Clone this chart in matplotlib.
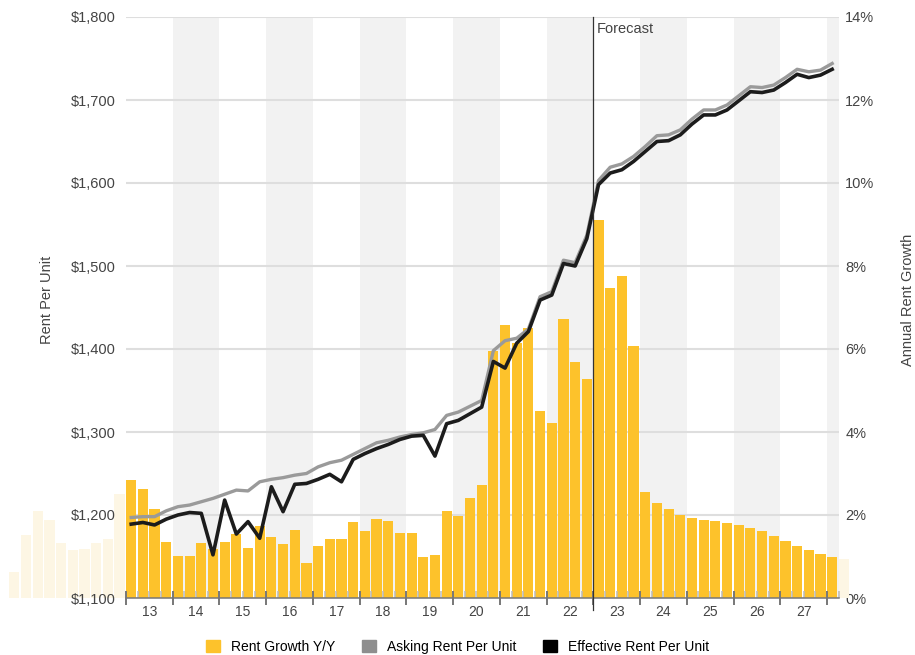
import numpy as np
import matplotlib.pyplot as plt
from matplotlib.patches import Patch
from matplotlib.transforms import blended_transform_factory

plt.rcParams['font.family'] = ['Liberation Sans', 'DejaVu Sans']

# quarterly data, 2013 Q1 .. 2028 Q1
years = ['13', '14', '15', '16', '17', '18', '19', '20', '21', '22', '23', '24', '25', '26', '27']
growth = [2.84, 2.63, 2.14, 1.35,  1.01, 1.01, 1.33, 1.18,  1.35, 1.55, 1.20, 1.73,
          1.47, 1.30, 1.64, 0.84,  1.25, 1.42, 1.42, 1.83,  1.61, 1.90, 1.86, 1.57,
          1.57, 0.99, 1.04, 2.10,  1.98, 2.41, 2.72, 5.96,  6.58, 6.15, 6.51, 4.51,
          4.22, 6.72, 5.69, 5.28,  9.11, 7.47, 7.76, 6.07,  2.55, 2.29, 2.14, 2.00,
          1.93, 1.88, 1.86, 1.81,  1.76, 1.69, 1.61, 1.49,  1.37, 1.25, 1.16, 1.06,
          0.99]
# faded bars outside the window: 2010 Q3 .. 2012 Q4 and 2028 Q2
growth_before = [0.63, 1.52, 2.10, 1.88, 1.33, 1.16, 1.18, 1.33, 1.42, 2.51]
growth_after = [0.94]

asking = [1197, 1198, 1198, 1205,  1210, 1212, 1216, 1220,  1225, 1230, 1229, 1240,
          1243, 1245, 1248, 1250,  1258, 1263, 1266, 1273,  1280, 1287, 1290, 1294,
          1297, 1299, 1303, 1320,  1324, 1331, 1338, 1398,  1410, 1413, 1424, 1463,
          1469, 1507, 1504, 1537,  1603, 1619, 1623, 1632,  1644, 1657, 1658, 1664,
          1677, 1688, 1688, 1694,  1705, 1716, 1715, 1718,  1727, 1737, 1734, 1736,
          1744]
effective = [1189, 1191, 1188, 1195,  1200, 1203, 1202, 1152,  1218, 1177, 1192, 1172,
             1234, 1204, 1237, 1238,  1243, 1249, 1240, 1267,  1274, 1280, 1285, 1291,
             1295, 1296, 1271, 1310,  1314, 1322, 1330, 1385,  1377, 1407, 1421, 1459,
             1465, 1503, 1500, 1533,  1598, 1612, 1616, 1626,  1638, 1650, 1651, 1658,
             1671, 1682, 1682, 1688,  1699, 1710, 1709, 1712,  1721, 1731, 1727, 1730,
             1737]
forecast_start = 40  # 2023 Q1

ORANGE = '#FDC22B'
FADED = '#FDF6E4'
GRAY = '#9A9A9A'
BLACK = '#1C1C1C'
TXT = '#444444'

fig = plt.figure(figsize=(9.15, 6.55), dpi=100)
ax = fig.add_axes([126 / 915, 57 / 655, 713 / 915, 581 / 655])
ax2 = ax.twinx()
ax.set_zorder(ax2.get_zorder() + 1)
ax.patch.set_visible(False)

n = len(growth)
xr = 61.03
x = np.arange(n)

# alternating year bands
for k in range(1, 16, 2):
    ax2.axvspan(4 * k, min(4 * k + 4, xr), color='#F2F2F2', lw=0, zorder=0)

ax2.bar(x + 0.01, growth, width=0.87, align='edge', color=ORANGE, zorder=2)
ax2.bar(np.arange(-len(growth_before), 0) + 0.01, growth_before, width=0.87,
        align='edge', color=FADED, zorder=2, clip_on=False)
ax2.bar(np.arange(n, n + len(growth_after)) + 0.01, growth_after, width=0.87,
        align='edge', color=FADED, zorder=2, clip_on=False)

ax.plot(x + 0.445, asking, color=GRAY, lw=2.4, zorder=3)
ax.plot(x + 0.445, effective, color=BLACK, lw=2.6, zorder=4)

ax.set_xlim(0, xr)
ax.set_ylim(1100, 1800)
ax2.set_ylim(0, 14)

# grid
ax2.set_axisbelow(True)
ax2.set_yticks(np.arange(0, 15, 2))
ax2.yaxis.grid(True, color='#DEDEDE', lw=1.5)
ax2.set_yticklabels([f'{v}%' for v in range(0, 15, 2)])
ax.set_yticks(np.arange(1100, 1801, 100))
ax.set_yticklabels([f'${v:,}' for v in range(1100, 1801, 100)])

for a in (ax, ax2):
    for s in a.spines.values():
        s.set_visible(False)
ax.spines['bottom'].set_visible(True)
ax.spines['bottom'].set_color('#777777')
ax.spines['bottom'].set_linewidth(1.1)

ax.tick_params(axis='y', length=0, pad=7.3, labelsize=10.5, labelcolor=TXT)
ax2.tick_params(axis='y', length=0, pad=4.5, labelsize=10.5, labelcolor=TXT)

ax.set_xticks(np.arange(0, 61, 4))
ax.set_xticks(np.arange(1, 62), minor=True)
ax.set_xticklabels([])
ax.tick_params(axis='x', which='major', direction='inout', length=10,
               width=1.4, color='#777777')
ax.tick_params(axis='x', which='minor', direction='in', length=5,
               width=1.1, color='#BBBBBB')

trans = blended_transform_factory(ax.transData, ax.transAxes)
for k, yl in enumerate(years):
    ax.text(4 * k + 2, -0.012, yl, transform=trans, ha='center', va='top',
            fontsize=10, color=TXT)

# forecast marker
ax.plot([forecast_start, forecast_start], [-0.021, 1], transform=trans,
        color='#333333', lw=0.9, clip_on=False, zorder=5)
ax.text(forecast_start + 0.3, 0.992, 'Forecast', transform=trans, ha='left',
        va='top', fontsize=10.5, color=TXT)

ax.set_ylabel('Rent Per Unit', fontsize=10.5, color=TXT)
ax.yaxis.set_label_coords(-0.101, 0.513)
ax2.set_ylabel('Annual Rent Growth', fontsize=10.5, color=TXT, rotation=90)
ax2.yaxis.set_label_coords(1.087, 0.513)

handles = [Patch(color=ORANGE, label='Rent Growth Y/Y'),
           Patch(color='#8E8E8E', label='Asking Rent Per Unit'),
           Patch(color='#000000', label='Effective Rent Per Unit')]
fig.legend(handles=handles, loc='center', bbox_to_anchor=(0.5, 1 - 647 / 655),
           ncol=3, frameon=False, fontsize=10, handlelength=1.0, handleheight=1.0,
           handletextpad=0.8, columnspacing=1.9)

fig.savefig('out.png', dpi=100)
